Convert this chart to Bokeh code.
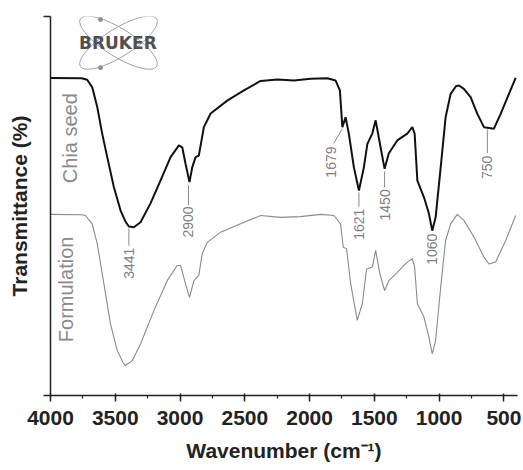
from bokeh.plotting import figure
from bokeh.models import Range1d, SingleIntervalTicker, FixedTicker, CustomJSTickFormatter
from bokeh.core.properties import value
from bokeh.embed import file_html
from bokeh.resources import INLINE
import math

# ---- data ----
wn_chia = [4000, 3760, 3717, 3678, 3639, 3601, 3562, 3511, 3459, 3420, 3395, 3357, 3305, 3228, 3151, 3073,
           3009, 2983, 2958, 2927, 2906, 2880, 2855, 2816, 2764, 2636, 2507, 2378, 2249, 2121,
           1992, 1863, 1799, 1766, 1747, 1722, 1697, 1658, 1619, 1581, 1554, 1516, 1490, 1452,
           1421, 1388, 1323, 1246, 1207, 1189, 1168, 1117, 1079, 1053, 1027, 988, 950, 911,
           870, 847, 809, 757, 705, 654, 577, 525, 461, 409]
t_chia = [83.8, 83.7, 83.3, 81.3, 76.1, 69.1, 62.9, 55.0, 48.8, 45.8, 44.6, 44.4, 45.7, 50.7, 56.7, 62.9,
          66.0, 65.5, 61.2, 56.3, 60.2, 62.9, 63.3, 70.8, 74.4, 77.8, 80.5, 83.0, 83.4, 83.1,
          83.6, 83.7, 83.1, 80.5, 70.8, 73.4, 69.1, 60.2, 54.1, 60.2, 66.4, 69.1, 72.6, 65.5,
          59.8, 63.9, 67.3, 69.1, 70.8, 69.1, 56.7, 52.3, 48.0, 43.5, 47.0, 60.2, 73.4, 79.6,
          81.6, 81.8, 80.9, 78.7, 74.3, 70.8, 70.4, 74.3, 79.6, 83.8]

wn_form = [4000, 3760, 3730, 3678, 3639, 3588, 3537, 3485, 3440, 3421, 3369, 3305, 3202, 3099, 3022, 2996,
           2958, 2927, 2893, 2855, 2829, 2790, 2687, 2533, 2378, 2224, 2070, 1915, 1812, 1761,
           1740, 1714, 1683, 1632, 1593, 1560, 1516, 1490, 1457, 1421, 1388, 1323, 1246, 1207,
           1189, 1168, 1117, 1079, 1053, 1027, 988, 950, 911, 860, 809, 731, 654, 615, 564, 486, 409]
t_form = [47.8, 47.7, 47.5, 45.3, 40.0, 29.5, 18.9, 11.9, 8.7, 7.9, 9.2, 13.6, 22.4, 30.3, 34.3, 34.3,
          29.5, 25.9, 30.3, 31.7, 37.4, 40.4, 43.1, 45.3, 47.5, 47.0, 47.2, 47.8, 47.5, 45.3,
          39.1, 38.7, 29.5, 19.8, 24.2, 33.4, 33.9, 38.3, 32.1, 27.7, 30.3, 32.5, 35.2, 36.1,
          33.9, 24.2, 20.7, 15.4, 11.0, 14.5, 28.6, 40.9, 45.3, 47.8, 46.2, 41.8, 36.5, 34.7,
          35.2, 40.9, 47.5]

peak_labels = ["3441", "2900", "1679", "1621", "1450", "1060", "750"]
peak_x = [3395, 2935, 1838, 1619, 1421, 1053, 628]
peak_label_top = [39.0, 49.9, 65.7, 49.3, 54.4, 42.7, 63.3]
lead_x0 = [3395, 2935, 1747, 1619, 1421, 628]
lead_y0 = [44.1, 55.5, 70.4, 53.6, 59.1, 70.2]
lead_x1 = [3395, 2935, 1814, 1619, 1421, 628]
lead_y1 = [39.5, 50.3, 66.5, 49.8, 54.9, 63.9]

series_names = ["Chia seed", "Formulation"]
series_label_x = [3853, 3884]
series_label_y = [67.9, 28.0]

FONT = "Liberation Sans"

p = figure(width=523, height=470, x_range=Range1d(4000, 395), y_range=Range1d(0, 100),
           output_backend="svg", toolbar_location=None,
           min_border_left=50, min_border_right=6, min_border_top=16, min_border_bottom=75)
p.xgrid.visible = False
p.ygrid.visible = False
p.outline_line_color = None
p.background_fill_color = "white"
p.border_fill_color = "white"

# ---- BRUKER logo ----
logo_x, logo_y = 3475, 93.1
p.ellipse(x=[logo_x, logo_x], y=[logo_y, logo_y], width=[90, 90], height=[28, 28],
          width_units="screen", height_units="screen",
          angle=[math.radians(32), math.radians(-32)],
          fill_color=None, line_color="#a0a0a0", line_width=1)
p.scatter(x=[3614, 3614], y=[99.2, 86.5], size=4, color="#909090")
p.text(x=[3480], y=[logo_y], text=["BRUKER"], text_font=value("DejaVu Sans"),
       text_font_style="bold", text_font_size="17px", text_color="#505050",
       text_align="center", text_baseline="middle")

# ---- spectra ----
p.line(wn_form, t_form, line_color="#8a8a8a", line_width=1.1)
p.line(wn_chia, t_chia, line_color="#111111", line_width=2)

# ---- peak annotations ----
p.segment(x0=lead_x0, y0=lead_y0, x1=lead_x1, y1=lead_y1, line_color="#8a8a8a", line_width=1)
p.text(x=peak_x, y=peak_label_top, text=peak_labels, angle=math.pi / 2,
       text_font=value(FONT), text_font_size="14px", text_color="#808080",
       text_align="right", text_baseline="middle")
p.text(x=series_label_x, y=series_label_y, text=series_names, angle=math.pi / 2,
       text_font=value(FONT), text_font_size="20px", text_color="#8a8a8a",
       text_align="center", text_baseline="middle")

# ---- axes ----
xa = p.xaxis[0]
xa.ticker = SingleIntervalTicker(interval=500, num_minor_ticks=2)
xa.axis_label = "Wavenumber (cm\u207b\u00b9)"
xa.axis_label_text_font = FONT
xa.axis_label_text_font_style = "bold"
xa.axis_label_text_font_size = "21px"
xa.axis_label_text_color = "#222222"
xa.axis_label_standoff = 11
xa.major_label_text_font = FONT
xa.major_label_text_font_style = "bold"
xa.major_label_text_font_size = "21px"
xa.major_label_text_color = "#222222"
xa.major_label_standoff = 9
xa.major_tick_out = 6
xa.major_tick_in = 2
xa.minor_tick_out = 3
xa.minor_tick_in = 0
xa.axis_line_width = 1.5
xa.axis_line_color = "#222222"
xa.major_tick_line_width = 1.5
xa.major_tick_line_color = "#222222"
xa.minor_tick_line_color = "#222222"
xa.minor_tick_line_width = 1.2

ya = p.yaxis[0]
ya.ticker = FixedTicker(ticks=[0, 100])
ya.formatter = CustomJSTickFormatter(code="return ''")
ya.axis_label = "Transmittance (%)"
ya.axis_label_text_font = FONT
ya.axis_label_text_font_style = "bold"
ya.axis_label_text_font_size = "21px"
ya.axis_label_text_color = "#222222"
ya.axis_label_standoff = 13
ya.major_tick_out = 7
ya.major_tick_in = 0
ya.minor_tick_line_color = None
ya.axis_line_width = 1.5
ya.axis_line_color = "#222222"
ya.major_tick_line_width = 1.5
ya.major_tick_line_color = "#222222"

open("out.html", "w").write(file_html(p, INLINE))
